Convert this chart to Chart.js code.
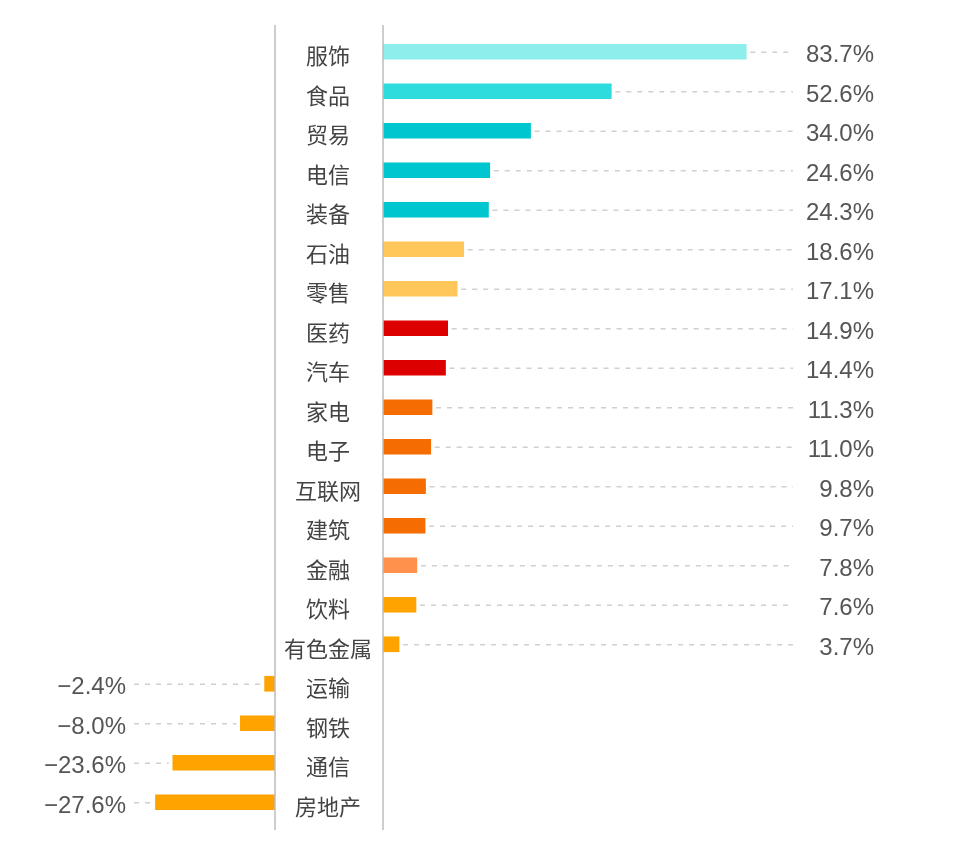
<!DOCTYPE html>
<html><head><meta charset="utf-8">
<script src="https://cdn.jsdelivr.net/npm/chart.js@4"></script>
<style>
html,body{margin:0;padding:0;background:#fff;width:960px;height:847px;overflow:hidden;}
#wrap{position:relative;width:960px;height:847px;}
canvas{position:absolute;top:0;}
#left{left:0;width:280px;height:847px;}
#right{left:275px;width:685px;height:847px;}
</style></head><body>
<div id="wrap"><canvas id="left" width="280" height="847"></canvas><canvas id="right" width="685" height="847"></canvas></div>
<script>
const categories = ['服饰','食品','贸易','电信','装备','石油','零售','医药','汽车','家电','电子','互联网','建筑','金融','饮料','有色金属','运输','钢铁','通信','房地产'];
const growth = [83.7, 52.6, 34.0, 24.6, 24.3, 18.6, 17.1, 14.9, 14.4, 11.3, 11.0, 9.8, 9.7, 7.8, 7.6, 3.7, -2.4, -8.0, -23.6, -27.6];
const barColors = ['#8deeec','#2edbdd','#00c6cf','#00c6cf','#00c6cf','#ffc65a','#ffc65a','#dd0000','#dd0000','#f56c00','#f56c00','#f56c00','#f56c00','#ff914d','#ffa300','#ffa300','#ffa300','#ffa300','#ffa300','#ffa300'];

const positive = growth.map(v => v > 0 ? v : null);
const negative = growth.map(v => v < 0 ? v : null);
const fmt = v => (v < 0 ? '\u2212' : '') + Math.abs(v).toFixed(1) + '%';
const numFont = '24px "Liberation Sans", Arial, sans-serif';

const rightDeco = {
  id: 'rightDeco',
  afterDatasetsDraw(chart) {
    const {ctx, chartArea, scales: {x}} = chart;
    const meta = chart.getDatasetMeta(0);
    const x0 = x.getPixelForValue(0);
    ctx.save();
    ctx.strokeStyle = '#bdbdbd'; ctx.lineWidth = 1.5;
    ctx.beginPath(); ctx.moveTo(x0, chartArea.top - 7); ctx.lineTo(x0, chartArea.bottom + 8); ctx.stroke();
    const dashEnd = chartArea.right - 24, textRight = chartArea.right + 57;
    meta.data.forEach((bar, i) => {
      if (positive[i] == null) return;
      ctx.setLineDash([5, 6]); ctx.strokeStyle = '#d0d0d0'; ctx.lineWidth = 1.5;
      ctx.beginPath(); ctx.moveTo(bar.x + 4, bar.y + 0.5); ctx.lineTo(dashEnd, bar.y + 0.5); ctx.stroke();
      ctx.setLineDash([]);
      ctx.fillStyle = '#555'; ctx.font = numFont; ctx.textAlign = 'right'; ctx.textBaseline = 'middle';
      ctx.fillText(fmt(growth[i]), textRight, bar.y + 4);
    });
    ctx.restore();
  }
};

const leftDeco = {
  id: 'leftDeco',
  afterDatasetsDraw(chart) {
    const {ctx, chartArea, scales: {x}} = chart;
    const meta = chart.getDatasetMeta(0);
    const x0 = x.getPixelForValue(0);
    ctx.save();
    ctx.strokeStyle = '#bdbdbd'; ctx.lineWidth = 1.5;
    ctx.beginPath(); ctx.moveTo(x0, chartArea.top - 7); ctx.lineTo(x0, chartArea.bottom + 8); ctx.stroke();
    const dashStart = 134, textRight = 126;
    meta.data.forEach((bar, i) => {
      if (negative[i] == null) return;
      ctx.setLineDash([5, 6]); ctx.strokeStyle = '#d0d0d0'; ctx.lineWidth = 1.5;
      ctx.beginPath(); ctx.moveTo(dashStart, bar.y + 0.5); ctx.lineTo(bar.x - 4, bar.y + 0.5); ctx.stroke();
      ctx.setLineDash([]);
      ctx.fillStyle = '#555'; ctx.font = numFont; ctx.textAlign = 'right'; ctx.textBaseline = 'middle';
      ctx.fillText(fmt(growth[i]), textRight, bar.y + 4);
    });
    ctx.restore();
  }
};

new Chart(document.getElementById('right'), {
  type: 'bar',
  data: {labels: categories, datasets: [{data: positive, backgroundColor: barColors, barThickness: 15, borderWidth: 0}]},
  options: {
    indexAxis: 'y', responsive: false, animation: false, devicePixelRatio: 1,
    layout: {padding: {top: 32, bottom: 25, left: 0, right: 143}},
    plugins: {legend: {display: false}, tooltip: {enabled: false}},
    scales: {
      x: {type: 'linear', min: 0, max: 100, display: false},
      y: {
        position: 'left',
        grid: {display: false, drawTicks: false},
        border: {display: false},
        ticks: {crossAlign: 'center', padding: 11, labelOffset: 4, color: '#444', autoSkip: false,
                font: {family: '"Noto Sans CJK SC", "Noto Sans", sans-serif', size: 22}},
        afterFit(s) { s.width = 108; }
      }
    }
  },
  plugins: [rightDeco]
});

new Chart(document.getElementById('left'), {
  type: 'bar',
  data: {labels: categories, datasets: [{data: negative, backgroundColor: barColors, barThickness: 15, borderWidth: 0}]},
  options: {
    indexAxis: 'y', responsive: false, animation: false, devicePixelRatio: 1,
    layout: {padding: {top: 32, bottom: 25, left: 0, right: 5}},
    plugins: {legend: {display: false}, tooltip: {enabled: false}},
    scales: {
      x: {type: 'linear', min: -63.5, max: 0, display: false},
      y: {display: false}
    }
  },
  plugins: [leftDeco]
});
</script>
</body></html>
